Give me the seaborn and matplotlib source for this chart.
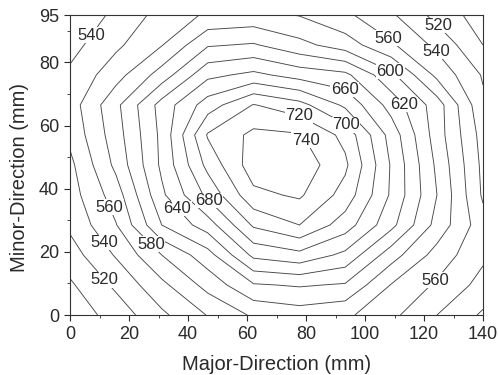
import numpy as np
import matplotlib
matplotlib.use("Agg")
import matplotlib.pyplot as plt
import seaborn as sns

# grid of measurement positions (mm)
major_mm = [0.0, 15.6, 31.1, 46.7, 62.2, 77.8, 93.3, 108.9, 124.4, 140.0]
minor_mm = [0.0, 9.5, 19.0, 28.5, 38.0, 47.5, 57.0, 66.5, 76.0, 85.5, 95.0]

# measured values, one row per minor-direction position (bottom to top)
row_y00 = [488, 508, 536, 561, 583, 590, 584, 565, 540, 517]
row_y10 = [497, 524, 555, 587, 618, 622, 618, 579, 557, 533]
row_y19 = [511, 542, 580, 612, 665, 674, 655, 609, 572, 544]
row_y29 = [524, 559, 620, 650, 703, 720, 690, 646, 593, 548]
row_y38 = [531, 570, 636, 685, 735, 743, 712, 657, 600, 537]
row_y48 = [535, 585, 644, 706, 751, 753, 724, 658, 596, 535]
row_y57 = [545, 591, 645, 722, 745, 742, 714, 652, 590, 532]
row_y67 = [550, 595, 648, 690, 721, 707, 676, 632, 590, 524]
row_y76 = [544, 572, 609, 655, 665, 652, 645, 605, 555, 518]
row_y86 = [533, 556, 579, 618, 622, 606, 590, 563, 535, 500]
row_y95 = [522, 545, 567, 583, 586, 579, 564, 543, 513, 490]

levels = [500, 520, 540, 560, 580, 600, 620, 640, 660, 680, 700, 720, 740]

x_ticks = [0, 20, 40, 60, 80, 100, 120, 140]
y_ticks = [0, 20, 40, 60, 80, 95]

# where the contour labels sit
label_spots = [
    (6.4, 89.2), (108.8, 89.0), (124.3, 91.3), (124.3, 83.7),
    (108.7, 77.5), (93.2, 71.8), (113.6, 67.0), (78.0, 64.4),
    (80.8, 55.9), (93.2, 59.8), (12.4, 33.8), (36.6, 33.9),
    (46.8, 35.9), (11.1, 22.7), (27.7, 22.7), (12.4, 11.6),
    (124.5, 10.5),
]

sns.set_theme(style="ticks")
plt.rcParams['font.family'] = ['Liberation Sans', 'DejaVu Sans']

fig = plt.figure(figsize=(4.98, 3.75), dpi=100)
ax = fig.add_axes([70 / 498, 1 - 315 / 375, 413 / 498, 300 / 375])

Z = np.array([row_y00, row_y10, row_y19, row_y29, row_y38, row_y48,
              row_y57, row_y67, row_y76, row_y86, row_y95], dtype=float)

cs = ax.contour(major_mm, minor_mm, Z, levels=levels,
                colors='#474747', linewidths=0.65)
texts = ax.clabel(cs, levels=levels, fmt='%d', fontsize=12, inline=False,
                  manual=label_spots, colors='#2a2a2a')
for t in texts:
    t.set_rotation(0)
    t.set_bbox(dict(facecolor='white', edgecolor='none', pad=0.3))
    t.set_zorder(5)

ax.set_xlim(0, 140)
ax.set_ylim(0, 95)
ax.set_xticks(x_ticks)
ax.set_yticks(y_ticks)
ax.set_xticks(np.arange(10, 140, 20), minor=True)
ax.set_yticks([10, 30, 50, 70, 90], minor=True)
ax.tick_params(which='major', direction='out', length=4, width=0.8,
               labelsize=13, colors='#2a2a2a', pad=4)
ax.tick_params(which='minor', direction='out', length=2, width=0.6)
for s in ax.spines.values():
    s.set_visible(True)
    s.set_linewidth(0.8)
    s.set_color('#333333')
    s.set_zorder(6)

ax.set_xlabel('Major-Direction (mm)', fontsize=14.5, color='#2a2a2a')
ax.set_ylabel('Minor-Direction (mm)', fontsize=14.5, color='#2a2a2a')
ax.xaxis.set_label_coords(0.5, -(374 - 315) / 300, transform=ax.transAxes)
ax.xaxis.label.set_va('bottom')
ax.yaxis.set_label_coords(-(70 - 29) / 413, (315 - 178) / 300, transform=ax.transAxes)

fig.savefig('out.png', dpi=100, facecolor='white')
